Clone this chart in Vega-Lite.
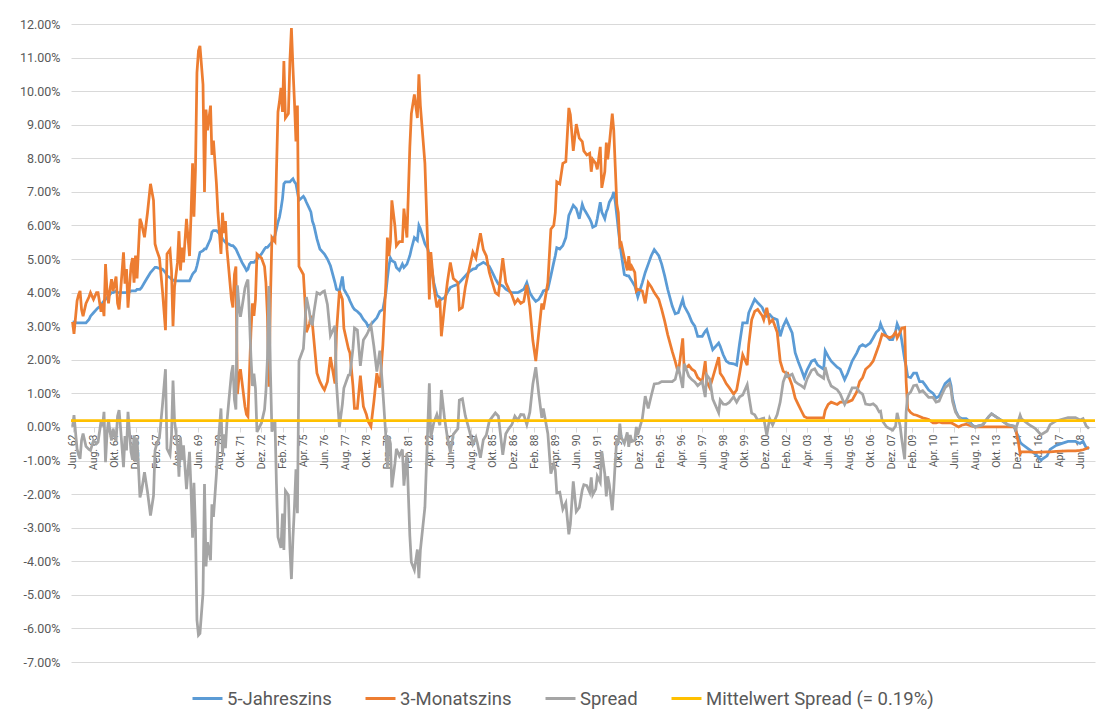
{
"$schema": "https://vega.github.io/schema/vega-lite/v6.json",
"width": 1024, "height": 638,
"autosize": {"type": "none"},
"padding": {"left": 71, "top": 24, "right": 12, "bottom": 56},
"background": "white",
"config": {"view": {"stroke": null}, "font": "Roboto"},
"layer": [
{
"data": {"values": [
{"d":"1962-06","j5":3.13,"m3":3.13,"sp":0.0},
{"d":"1962-07","j5":3.12,"m3":2.77,"sp":0.35},
{"d":"1962-09","j5":3.1,"m3":3.75,"sp":-0.65},
{"d":"1962-10","j5":3.1,"m3":3.93,"sp":-0.83},
{"d":"1962-11","j5":3.1,"m3":4.05,"sp":-0.95},
{"d":"1962-12","j5":3.1,"m3":3.5,"sp":-0.4},
{"d":"1963-01","j5":3.1,"m3":3.3,"sp":-0.2},
{"d":"1963-03","j5":3.1,"m3":3.68,"sp":-0.58},
{"d":"1963-05","j5":3.2,"m3":3.87,"sp":-0.67},
{"d":"1963-06","j5":3.3,"m3":4.0,"sp":-0.7},
{"d":"1963-08","j5":3.4,"m3":3.8,"sp":-0.4},
{"d":"1963-10","j5":3.5,"m3":4.0,"sp":-0.5},
{"d":"1963-11","j5":3.55,"m3":4.0,"sp":-0.45},
{"d":"1964-01","j5":3.6,"m3":3.43,"sp":0.17},
{"d":"1964-02","j5":3.7,"m3":3.68,"sp":0.02},
{"d":"1964-03","j5":3.75,"m3":3.3,"sp":0.45},
{"d":"1964-04","j5":3.8,"m3":4.85,"sp":-1.05},
{"d":"1964-05","j5":3.85,"m3":4.05,"sp":-0.2},
{"d":"1964-06","j5":3.9,"m3":3.68,"sp":0.22},
{"d":"1964-07","j5":3.95,"m3":4.1,"sp":-0.15},
{"d":"1964-08","j5":4.0,"m3":4.4,"sp":-0.4},
{"d":"1964-09","j5":4.0,"m3":4.05,"sp":-0.05},
{"d":"1964-11","j5":4.05,"m3":4.48,"sp":-0.43},
{"d":"1964-12","j5":4.0,"m3":3.68,"sp":0.32},
{"d":"1965-01","j5":4.0,"m3":3.5,"sp":0.5},
{"d":"1965-02","j5":4.0,"m3":4.05,"sp":-0.05},
{"d":"1965-04","j5":4.0,"m3":5.2,"sp":-1.2},
{"d":"1965-05","j5":4.0,"m3":4.27,"sp":-0.27},
{"d":"1965-06","j5":4.0,"m3":4.7,"sp":-0.7},
{"d":"1965-07","j5":4.0,"m3":3.55,"sp":0.45},
{"d":"1965-09","j5":4.05,"m3":4.8,"sp":-0.75},
{"d":"1965-10","j5":4.05,"m3":5.03,"sp":-0.98},
{"d":"1965-11","j5":4.05,"m3":4.3,"sp":-0.25},
{"d":"1965-12","j5":4.05,"m3":5.1,"sp":-1.05},
{"d":"1966-01","j5":4.1,"m3":4.42,"sp":-0.32},
{"d":"1966-03","j5":4.1,"m3":6.2,"sp":-2.1},
{"d":"1966-04","j5":4.15,"m3":6.07,"sp":-1.92},
{"d":"1966-06","j5":4.3,"m3":5.65,"sp":-1.35},
{"d":"1966-08","j5":4.45,"m3":6.38,"sp":-1.93},
{"d":"1966-10","j5":4.6,"m3":7.24,"sp":-2.64},
{"d":"1966-12","j5":4.7,"m3":6.75,"sp":-2.05},
{"d":"1967-01","j5":4.75,"m3":5.45,"sp":-0.7},
{"d":"1967-02","j5":4.75,"m3":5.28,"sp":-0.53},
{"d":"1967-04","j5":4.72,"m3":5.03,"sp":-0.31},
{"d":"1967-06","j5":4.7,"m3":4.05,"sp":0.65},
{"d":"1967-08","j5":4.6,"m3":2.88,"sp":1.72},
{"d":"1967-09","j5":4.5,"m3":5.15,"sp":-0.65},
{"d":"1967-11","j5":4.45,"m3":5.28,"sp":-0.83},
{"d":"1967-12","j5":4.4,"m3":4.66,"sp":-0.26},
{"d":"1968-01","j5":4.38,"m3":3.0,"sp":1.38},
{"d":"1968-02","j5":4.35,"m3":4.17,"sp":0.18},
{"d":"1968-04","j5":4.35,"m3":4.9,"sp":-0.55},
{"d":"1968-05","j5":4.35,"m3":5.83,"sp":-1.48},
{"d":"1968-06","j5":4.35,"m3":4.66,"sp":-0.31},
{"d":"1968-07","j5":4.35,"m3":5.34,"sp":-0.99},
{"d":"1968-08","j5":4.35,"m3":4.9,"sp":-0.55},
{"d":"1968-10","j5":4.35,"m3":6.2,"sp":-1.85},
{"d":"1968-12","j5":4.35,"m3":5.09,"sp":-0.74},
{"d":"1969-01","j5":4.45,"m3":6.32,"sp":-1.87},
{"d":"1969-02","j5":4.55,"m3":7.85,"sp":-3.3},
{"d":"1969-03","j5":4.6,"m3":6.26,"sp":-1.66},
{"d":"1969-04","j5":4.65,"m3":7.67,"sp":-3.02},
{"d":"1969-05","j5":4.8,"m3":10.55,"sp":-5.75},
{"d":"1969-06","j5":5.0,"m3":11.2,"sp":-6.2},
{"d":"1969-07","j5":5.2,"m3":11.35,"sp":-6.15},
{"d":"1969-09","j5":5.25,"m3":10.2,"sp":-4.95},
{"d":"1969-10","j5":5.3,"m3":7.0,"sp":-1.7},
{"d":"1969-11","j5":5.3,"m3":9.45,"sp":-4.15},
{"d":"1969-12","j5":5.4,"m3":8.83,"sp":-3.43},
{"d":"1970-01","j5":5.5,"m3":9.2,"sp":-3.7},
{"d":"1970-02","j5":5.6,"m3":9.57,"sp":-3.97},
{"d":"1970-03","j5":5.8,"m3":8.1,"sp":-2.3},
{"d":"1970-04","j5":5.85,"m3":8.53,"sp":-2.68},
{"d":"1970-06","j5":5.85,"m3":7.24,"sp":-1.39},
{"d":"1970-07","j5":5.8,"m3":6.38,"sp":-0.58},
{"d":"1970-08","j5":5.75,"m3":5.77,"sp":-0.02},
{"d":"1970-09","j5":5.7,"m3":5.15,"sp":0.55},
{"d":"1970-10","j5":5.6,"m3":6.38,"sp":-0.78},
{"d":"1970-11","j5":5.55,"m3":5.77,"sp":-0.22},
{"d":"1970-12","j5":5.5,"m3":6.13,"sp":-0.63},
{"d":"1971-01","j5":5.45,"m3":5.28,"sp":0.17},
{"d":"1971-02","j5":5.45,"m3":4.78,"sp":0.67},
{"d":"1971-04","j5":5.4,"m3":3.8,"sp":1.6},
{"d":"1971-05","j5":5.4,"m3":3.56,"sp":1.84},
{"d":"1971-06","j5":5.35,"m3":4.54,"sp":0.81},
{"d":"1971-07","j5":5.3,"m3":4.78,"sp":0.52},
{"d":"1971-08","j5":5.2,"m3":0.98,"sp":4.22},
{"d":"1971-09","j5":5.1,"m3":1.47,"sp":3.63},
{"d":"1971-10","j5":5.0,"m3":1.72,"sp":3.28},
{"d":"1971-11","j5":4.9,"m3":1.35,"sp":3.55},
{"d":"1972-01","j5":4.75,"m3":0.61,"sp":4.14},
{"d":"1972-02","j5":4.66,"m3":0.37,"sp":4.29},
{"d":"1972-03","j5":4.7,"m3":0.31,"sp":4.39},
{"d":"1972-04","j5":4.85,"m3":1.6,"sp":3.25},
{"d":"1972-05","j5":4.9,"m3":2.82,"sp":2.08},
{"d":"1972-06","j5":4.9,"m3":3.68,"sp":1.22},
{"d":"1972-07","j5":4.9,"m3":3.31,"sp":1.59},
{"d":"1972-08","j5":4.95,"m3":3.8,"sp":1.15},
{"d":"1972-09","j5":5.0,"m3":5.15,"sp":-0.15},
{"d":"1972-12","j5":5.15,"m3":5.03,"sp":0.12},
{"d":"1973-02","j5":5.3,"m3":4.78,"sp":0.52},
{"d":"1973-03","j5":5.35,"m3":4.3,"sp":1.05},
{"d":"1973-04","j5":5.35,"m3":3.31,"sp":2.04},
{"d":"1973-05","j5":5.4,"m3":1.2,"sp":4.2},
{"d":"1973-06","j5":5.45,"m3":3.8,"sp":1.65},
{"d":"1973-07","j5":5.5,"m3":5.64,"sp":-0.14},
{"d":"1973-09","j5":5.7,"m3":5.52,"sp":0.18},
{"d":"1973-10","j5":5.9,"m3":7.6,"sp":-1.7},
{"d":"1973-11","j5":6.1,"m3":9.38,"sp":-3.28},
{"d":"1973-12","j5":6.25,"m3":9.69,"sp":-3.44},
{"d":"1974-01","j5":6.5,"m3":10.1,"sp":-3.6},
{"d":"1974-02","j5":6.8,"m3":9.38,"sp":-2.58},
{"d":"1974-03","j5":7.24,"m3":10.9,"sp":-3.66},
{"d":"1974-04","j5":7.3,"m3":9.2,"sp":-1.9},
{"d":"1974-06","j5":7.3,"m3":9.33,"sp":-2.03},
{"d":"1974-07","j5":7.3,"m3":10.9,"sp":-3.6},
{"d":"1974-08","j5":7.35,"m3":11.88,"sp":-4.53},
{"d":"1974-09","j5":7.39,"m3":10.7,"sp":-3.31},
{"d":"1974-10","j5":7.3,"m3":9.7,"sp":-2.4},
{"d":"1974-11","j5":7.24,"m3":8.5,"sp":-1.26},
{"d":"1974-12","j5":7.0,"m3":9.57,"sp":-2.57},
{"d":"1975-01","j5":6.75,"m3":4.78,"sp":1.97},
{"d":"1975-04","j5":6.87,"m3":4.54,"sp":2.33},
{"d":"1975-05","j5":6.8,"m3":3.8,"sp":3.0},
{"d":"1975-06","j5":6.69,"m3":2.82,"sp":3.87},
{"d":"1975-08","j5":6.5,"m3":3.07,"sp":3.43},
{"d":"1975-09","j5":6.4,"m3":3.31,"sp":3.09},
{"d":"1975-10","j5":6.13,"m3":3.07,"sp":3.06},
{"d":"1975-11","j5":6.0,"m3":2.58,"sp":3.42},
{"d":"1976-01","j5":5.6,"m3":1.6,"sp":4.0},
{"d":"1976-03","j5":5.3,"m3":1.35,"sp":3.95},
{"d":"1976-05","j5":5.2,"m3":1.17,"sp":4.03},
{"d":"1976-06","j5":5.15,"m3":1.1,"sp":4.05},
{"d":"1976-08","j5":5.0,"m3":1.35,"sp":3.65},
{"d":"1976-10","j5":4.8,"m3":2.08,"sp":2.72},
{"d":"1977-01","j5":4.3,"m3":1.29,"sp":3.01},
{"d":"1977-02","j5":4.1,"m3":2.82,"sp":1.28},
{"d":"1977-04","j5":4.05,"m3":4.05,"sp":0.0},
{"d":"1977-06","j5":4.48,"m3":3.8,"sp":0.68},
{"d":"1977-07","j5":4.1,"m3":2.94,"sp":1.16},
{"d":"1977-10","j5":3.87,"m3":2.33,"sp":1.54},
{"d":"1977-11","j5":3.75,"m3":2.2,"sp":1.55},
{"d":"1978-01","j5":3.56,"m3":1.23,"sp":2.33},
{"d":"1978-02","j5":3.5,"m3":0.55,"sp":2.95},
{"d":"1978-04","j5":3.44,"m3":0.55,"sp":2.89},
{"d":"1978-06","j5":3.35,"m3":1.53,"sp":1.82},
{"d":"1978-08","j5":3.2,"m3":0.61,"sp":2.59},
{"d":"1978-10","j5":3.1,"m3":0.37,"sp":2.73},
{"d":"1978-11","j5":3.0,"m3":0.18,"sp":2.82},
{"d":"1979-01","j5":3.05,"m3":0.02,"sp":3.03},
{"d":"1979-03","j5":3.15,"m3":0.74,"sp":2.41},
{"d":"1979-05","j5":3.25,"m3":1.6,"sp":1.65},
{"d":"1979-07","j5":3.44,"m3":1.17,"sp":2.27},
{"d":"1979-09","j5":3.5,"m3":2.45,"sp":1.05},
{"d":"1979-11","j5":4.0,"m3":4.3,"sp":-0.3},
{"d":"1979-12","j5":4.42,"m3":5.64,"sp":-1.22},
{"d":"1980-01","j5":4.8,"m3":5.09,"sp":-0.29},
{"d":"1980-02","j5":5.03,"m3":5.52,"sp":-0.49},
{"d":"1980-03","j5":4.95,"m3":6.75,"sp":-1.8},
{"d":"1980-05","j5":4.9,"m3":6.0,"sp":-1.1},
{"d":"1980-06","j5":4.75,"m3":5.4,"sp":-0.65},
{"d":"1980-08","j5":4.66,"m3":5.52,"sp":-0.86},
{"d":"1980-10","j5":4.85,"m3":5.52,"sp":-0.67},
{"d":"1980-11","j5":4.75,"m3":6.5,"sp":-1.75},
{"d":"1981-01","j5":4.85,"m3":5.64,"sp":-0.79},
{"d":"1981-03","j5":5.1,"m3":8.34,"sp":-3.24},
{"d":"1981-04","j5":5.3,"m3":9.33,"sp":-4.03},
{"d":"1981-06","j5":5.64,"m3":9.9,"sp":-4.26},
{"d":"1981-08","j5":5.55,"m3":9.2,"sp":-3.65},
{"d":"1981-09","j5":6.0,"m3":10.5,"sp":-4.5},
{"d":"1981-10","j5":5.9,"m3":9.57,"sp":-3.67},
{"d":"1982-01","j5":5.46,"m3":7.85,"sp":-2.39},
{"d":"1982-03","j5":5.3,"m3":5.28,"sp":0.02},
{"d":"1982-04","j5":5.1,"m3":3.8,"sp":1.3},
{"d":"1982-05","j5":4.9,"m3":5.21,"sp":-0.31},
{"d":"1982-07","j5":4.3,"m3":4.17,"sp":0.13},
{"d":"1982-09","j5":3.93,"m3":3.56,"sp":0.37},
{"d":"1982-11","j5":3.85,"m3":3.8,"sp":0.05},
{"d":"1982-12","j5":3.8,"m3":2.7,"sp":1.1},
{"d":"1983-02","j5":3.85,"m3":3.56,"sp":0.29},
{"d":"1983-04","j5":4.0,"m3":4.3,"sp":-0.3},
{"d":"1983-06","j5":4.15,"m3":4.9,"sp":-0.75},
{"d":"1983-08","j5":4.2,"m3":4.42,"sp":-0.22},
{"d":"1983-11","j5":4.25,"m3":4.3,"sp":-0.05},
{"d":"1983-12","j5":4.3,"m3":3.5,"sp":0.8},
{"d":"1984-02","j5":4.4,"m3":3.56,"sp":0.84},
{"d":"1984-04","j5":4.5,"m3":4.17,"sp":0.33},
{"d":"1984-06","j5":4.6,"m3":4.6,"sp":0.0},
{"d":"1984-09","j5":4.7,"m3":5.21,"sp":-0.51},
{"d":"1984-11","j5":4.72,"m3":5.03,"sp":-0.31},
{"d":"1984-12","j5":4.8,"m3":5.28,"sp":-0.48},
{"d":"1985-02","j5":4.85,"m3":5.77,"sp":-0.92},
{"d":"1985-04","j5":4.9,"m3":5.28,"sp":-0.38},
{"d":"1985-06","j5":4.85,"m3":5.09,"sp":-0.24},
{"d":"1985-08","j5":4.78,"m3":4.6,"sp":0.18},
{"d":"1985-10","j5":4.6,"m3":4.3,"sp":0.3},
{"d":"1985-12","j5":4.42,"m3":4.0,"sp":0.42},
{"d":"1986-02","j5":4.25,"m3":3.93,"sp":0.32},
{"d":"1986-05","j5":4.2,"m3":5.03,"sp":-0.83},
{"d":"1986-07","j5":4.1,"m3":4.3,"sp":-0.2},
{"d":"1986-09","j5":4.05,"m3":4.1,"sp":-0.05},
{"d":"1986-11","j5":4.0,"m3":3.93,"sp":0.07},
{"d":"1987-01","j5":4.0,"m3":3.68,"sp":0.32},
{"d":"1987-03","j5":4.0,"m3":3.8,"sp":0.2},
{"d":"1987-05","j5":4.05,"m3":3.68,"sp":0.37},
{"d":"1987-07","j5":4.1,"m3":3.74,"sp":0.36},
{"d":"1987-09","j5":4.3,"m3":4.23,"sp":0.07},
{"d":"1987-11","j5":4.0,"m3":3.56,"sp":0.44},
{"d":"1988-01","j5":3.85,"m3":2.58,"sp":1.27},
{"d":"1988-03","j5":3.74,"m3":1.96,"sp":1.78},
{"d":"1988-05","j5":3.8,"m3":2.82,"sp":0.98},
{"d":"1988-07","j5":3.95,"m3":3.68,"sp":0.27},
{"d":"1988-08","j5":4.05,"m3":3.5,"sp":0.55},
{"d":"1988-11","j5":4.1,"m3":4.3,"sp":-0.2},
{"d":"1989-01","j5":4.5,"m3":5.89,"sp":-1.39},
{"d":"1989-03","j5":4.9,"m3":6.0,"sp":-1.1},
{"d":"1989-04","j5":5.1,"m3":6.38,"sp":-1.28},
{"d":"1989-05","j5":5.34,"m3":7.3,"sp":-1.96},
{"d":"1989-07","j5":5.3,"m3":7.24,"sp":-1.94},
{"d":"1989-09","j5":5.4,"m3":7.85,"sp":-2.45},
{"d":"1989-11","j5":5.64,"m3":7.9,"sp":-2.26},
{"d":"1990-01","j5":6.3,"m3":9.5,"sp":-3.2},
{"d":"1990-02","j5":6.4,"m3":9.3,"sp":-2.9},
{"d":"1990-04","j5":6.6,"m3":8.22,"sp":-1.62},
{"d":"1990-06","j5":6.5,"m3":9.02,"sp":-2.52},
{"d":"1990-08","j5":6.2,"m3":8.6,"sp":-2.4},
{"d":"1990-10","j5":6.63,"m3":8.5,"sp":-1.87},
{"d":"1990-11","j5":6.5,"m3":8.22,"sp":-1.72},
{"d":"1991-01","j5":6.35,"m3":8.1,"sp":-1.75},
{"d":"1991-03","j5":6.2,"m3":8.15,"sp":-1.95},
{"d":"1991-04","j5":6.1,"m3":7.6,"sp":-1.5},
{"d":"1991-05","j5":5.95,"m3":7.97,"sp":-2.02},
{"d":"1991-07","j5":6.0,"m3":7.85,"sp":-1.85},
{"d":"1991-08","j5":6.2,"m3":7.67,"sp":-1.47},
{"d":"1991-10","j5":6.69,"m3":8.34,"sp":-1.65},
{"d":"1991-11","j5":6.4,"m3":7.12,"sp":-0.72},
{"d":"1992-01","j5":6.2,"m3":7.6,"sp":-1.4},
{"d":"1992-02","j5":6.4,"m3":8.47,"sp":-2.07},
{"d":"1992-03","j5":6.5,"m3":7.97,"sp":-1.47},
{"d":"1992-04","j5":6.69,"m3":8.4,"sp":-1.71},
{"d":"1992-06","j5":6.85,"m3":9.33,"sp":-2.48},
{"d":"1992-07","j5":7.0,"m3":8.83,"sp":-1.83},
{"d":"1992-08","j5":6.7,"m3":7.73,"sp":-1.03},
{"d":"1992-09","j5":6.3,"m3":6.63,"sp":-0.33},
{"d":"1992-10","j5":5.89,"m3":6.38,"sp":-0.49},
{"d":"1992-11","j5":5.5,"m3":5.4,"sp":0.1},
{"d":"1992-12","j5":5.15,"m3":5.46,"sp":-0.31},
{"d":"1993-02","j5":4.54,"m3":5.03,"sp":-0.49},
{"d":"1993-04","j5":4.5,"m3":4.66,"sp":-0.16},
{"d":"1993-05","j5":4.5,"m3":5.09,"sp":-0.59},
{"d":"1993-06","j5":4.42,"m3":4.66,"sp":-0.24},
{"d":"1993-07","j5":4.35,"m3":4.78,"sp":-0.43},
{"d":"1993-09","j5":4.2,"m3":4.6,"sp":-0.4},
{"d":"1993-10","j5":4.05,"m3":4.05,"sp":0.0},
{"d":"1993-11","j5":3.87,"m3":4.1,"sp":-0.23},
{"d":"1994-02","j5":4.3,"m3":4.05,"sp":0.25},
{"d":"1994-04","j5":4.6,"m3":3.68,"sp":0.92},
{"d":"1994-06","j5":4.85,"m3":4.3,"sp":0.55},
{"d":"1994-08","j5":5.1,"m3":4.17,"sp":0.93},
{"d":"1994-10","j5":5.28,"m3":4.0,"sp":1.28},
{"d":"1995-01","j5":5.1,"m3":3.8,"sp":1.3},
{"d":"1995-03","j5":4.85,"m3":3.5,"sp":1.35},
{"d":"1995-05","j5":4.5,"m3":3.15,"sp":1.35},
{"d":"1995-07","j5":4.1,"m3":2.75,"sp":1.35},
{"d":"1995-10","j5":3.6,"m3":2.25,"sp":1.35},
{"d":"1995-12","j5":3.37,"m3":1.95,"sp":1.42},
{"d":"1996-02","j5":3.4,"m3":1.6,"sp":1.8},
{"d":"1996-05","j5":3.8,"m3":2.64,"sp":1.16},
{"d":"1996-06","j5":3.6,"m3":1.72,"sp":1.88},
{"d":"1996-09","j5":3.35,"m3":1.84,"sp":1.51},
{"d":"1996-11","j5":3.13,"m3":1.72,"sp":1.41},
{"d":"1997-01","j5":3.0,"m3":1.66,"sp":1.34},
{"d":"1997-03","j5":2.7,"m3":1.47,"sp":1.23},
{"d":"1997-06","j5":2.7,"m3":1.35,"sp":1.35},
{"d":"1997-08","j5":2.85,"m3":1.96,"sp":0.89},
{"d":"1997-09","j5":2.9,"m3":1.35,"sp":1.55},
{"d":"1997-11","j5":2.6,"m3":1.17,"sp":1.43},
{"d":"1998-01","j5":2.3,"m3":1.47,"sp":0.83},
{"d":"1998-05","j5":2.5,"m3":2.08,"sp":0.42},
{"d":"1998-06","j5":2.4,"m3":1.6,"sp":0.8},
{"d":"1998-08","j5":2.15,"m3":1.47,"sp":0.68},
{"d":"1998-10","j5":1.96,"m3":1.29,"sp":0.67},
{"d":"1998-12","j5":1.9,"m3":1.17,"sp":0.73},
{"d":"1999-03","j5":1.88,"m3":0.98,"sp":0.9},
{"d":"1999-05","j5":1.84,"m3":1.1,"sp":0.74},
{"d":"1999-07","j5":2.5,"m3":1.6,"sp":0.9},
{"d":"1999-09","j5":3.1,"m3":2.15,"sp":0.95},
{"d":"1999-12","j5":3.1,"m3":1.84,"sp":1.26},
{"d":"2000-01","j5":3.4,"m3":2.45,"sp":0.95},
{"d":"2000-03","j5":3.6,"m3":3.19,"sp":0.41},
{"d":"2000-05","j5":3.8,"m3":3.44,"sp":0.36},
{"d":"2000-07","j5":3.7,"m3":3.5,"sp":0.2},
{"d":"2000-10","j5":3.56,"m3":3.31,"sp":0.25},
{"d":"2000-11","j5":3.45,"m3":3.19,"sp":0.26},
{"d":"2001-01","j5":3.3,"m3":3.55,"sp":-0.25},
{"d":"2001-03","j5":3.35,"m3":3.1,"sp":0.25},
{"d":"2001-05","j5":3.25,"m3":3.19,"sp":0.06},
{"d":"2001-08","j5":3.19,"m3":2.82,"sp":0.37},
{"d":"2001-10","j5":2.7,"m3":1.96,"sp":0.74},
{"d":"2001-12","j5":3.0,"m3":1.66,"sp":1.34},
{"d":"2002-02","j5":3.19,"m3":1.6,"sp":1.59},
{"d":"2002-03","j5":3.1,"m3":1.6,"sp":1.5},
{"d":"2002-06","j5":2.8,"m3":1.23,"sp":1.57},
{"d":"2002-08","j5":2.21,"m3":0.86,"sp":1.35},
{"d":"2002-10","j5":1.95,"m3":0.67,"sp":1.28},
{"d":"2002-12","j5":1.72,"m3":0.49,"sp":1.23},
{"d":"2003-02","j5":1.47,"m3":0.31,"sp":1.16},
{"d":"2003-04","j5":1.7,"m3":0.27,"sp":1.43},
{"d":"2003-07","j5":1.96,"m3":0.27,"sp":1.69},
{"d":"2003-09","j5":2.0,"m3":0.27,"sp":1.73},
{"d":"2003-11","j5":1.84,"m3":0.27,"sp":1.57},
{"d":"2004-03","j5":1.72,"m3":0.27,"sp":1.45},
{"d":"2004-04","j5":2.27,"m3":0.49,"sp":1.78},
{"d":"2004-06","j5":2.1,"m3":0.67,"sp":1.43},
{"d":"2004-08","j5":1.96,"m3":0.74,"sp":1.22},
{"d":"2004-12","j5":1.78,"m3":0.67,"sp":1.11},
{"d":"2005-02","j5":1.72,"m3":0.74,"sp":0.98},
{"d":"2005-05","j5":1.41,"m3":0.74,"sp":0.67},
{"d":"2005-07","j5":1.6,"m3":0.74,"sp":0.86},
{"d":"2005-10","j5":1.96,"m3":0.8,"sp":1.16},
{"d":"2006-01","j5":2.2,"m3":1.04,"sp":1.16},
{"d":"2006-03","j5":2.39,"m3":1.35,"sp":1.04},
{"d":"2006-05","j5":2.45,"m3":1.47,"sp":0.98},
{"d":"2006-07","j5":2.4,"m3":1.72,"sp":0.68},
{"d":"2006-10","j5":2.5,"m3":1.84,"sp":0.66},
{"d":"2006-12","j5":2.65,"m3":1.96,"sp":0.69},
{"d":"2007-02","j5":2.82,"m3":2.21,"sp":0.61},
{"d":"2007-04","j5":2.9,"m3":2.45,"sp":0.45},
{"d":"2007-05","j5":3.07,"m3":2.6,"sp":0.47},
{"d":"2007-06","j5":2.95,"m3":2.76,"sp":0.19},
{"d":"2007-09","j5":2.7,"m3":2.7,"sp":0.0},
{"d":"2007-11","j5":2.6,"m3":2.65,"sp":-0.05},
{"d":"2008-01","j5":2.6,"m3":2.7,"sp":-0.1},
{"d":"2008-03","j5":2.85,"m3":2.82,"sp":0.03},
{"d":"2008-04","j5":3.07,"m3":2.65,"sp":0.42},
{"d":"2008-06","j5":2.85,"m3":2.82,"sp":0.03},
{"d":"2008-07","j5":2.6,"m3":2.94,"sp":-0.34},
{"d":"2008-09","j5":2.0,"m3":2.96,"sp":-0.96},
{"d":"2008-10","j5":1.8,"m3":1.35,"sp":0.45},
{"d":"2008-11","j5":1.5,"m3":0.55,"sp":0.95},
{"d":"2009-01","j5":1.47,"m3":0.43,"sp":1.04},
{"d":"2009-03","j5":1.6,"m3":0.37,"sp":1.23},
{"d":"2009-05","j5":1.6,"m3":0.35,"sp":1.25},
{"d":"2009-07","j5":1.35,"m3":0.31,"sp":1.04},
{"d":"2009-09","j5":1.35,"m3":0.27,"sp":1.08},
{"d":"2009-11","j5":1.23,"m3":0.25,"sp":0.98},
{"d":"2010-01","j5":1.1,"m3":0.22,"sp":0.88},
{"d":"2010-04","j5":1.0,"m3":0.12,"sp":0.88},
{"d":"2010-06","j5":0.86,"m3":0.12,"sp":0.74},
{"d":"2010-08","j5":0.92,"m3":0.15,"sp":0.77},
{"d":"2010-10","j5":1.1,"m3":0.12,"sp":0.98},
{"d":"2010-12","j5":1.29,"m3":0.12,"sp":1.17},
{"d":"2011-03","j5":1.41,"m3":0.12,"sp":1.29},
{"d":"2011-04","j5":1.23,"m3":0.12,"sp":1.11},
{"d":"2011-05","j5":0.86,"m3":0.1,"sp":0.76},
{"d":"2011-07","j5":0.49,"m3":0.05,"sp":0.44},
{"d":"2011-09","j5":0.3,"m3":0.0,"sp":0.3},
{"d":"2011-11","j5":0.25,"m3":0.05,"sp":0.2},
{"d":"2012-02","j5":0.25,"m3":0.08,"sp":0.17},
{"d":"2012-04","j5":0.18,"m3":0.05,"sp":0.13},
{"d":"2012-06","j5":0.06,"m3":0.02,"sp":0.04},
{"d":"2012-08","j5":0.0,"m3":0.0,"sp":0.0},
{"d":"2013-01","j5":0.06,"m3":0.0,"sp":0.06},
{"d":"2013-05","j5":0.3,"m3":0.0,"sp":0.3},
{"d":"2013-07","j5":0.39,"m3":0.0,"sp":0.39},
{"d":"2013-10","j5":0.3,"m3":0.0,"sp":0.3},
{"d":"2014-02","j5":0.18,"m3":0.0,"sp":0.18},
{"d":"2014-06","j5":0.06,"m3":0.0,"sp":0.06},
{"d":"2014-10","j5":0.02,"m3":0.0,"sp":0.02},
{"d":"2014-11","j5":-0.12,"m3":-0.05,"sp":-0.07},
{"d":"2015-01","j5":-0.3,"m3":-0.5,"sp":0.2},
{"d":"2015-02","j5":-0.45,"m3":-0.8,"sp":0.35},
{"d":"2015-03","j5":-0.5,"m3":-0.74,"sp":0.24},
{"d":"2015-08","j5":-0.67,"m3":-0.74,"sp":0.07},
{"d":"2015-12","j5":-0.8,"m3":-0.76,"sp":-0.04},
{"d":"2016-04","j5":-0.98,"m3":-0.75,"sp":-0.23},
{"d":"2016-08","j5":-0.86,"m3":-0.74,"sp":-0.12},
{"d":"2016-10","j5":-0.67,"m3":-0.74,"sp":0.07},
{"d":"2017-02","j5":-0.55,"m3":-0.73,"sp":0.18},
{"d":"2017-06","j5":-0.49,"m3":-0.72,"sp":0.23},
{"d":"2017-10","j5":-0.43,"m3":-0.71,"sp":0.28},
{"d":"2018-03","j5":-0.43,"m3":-0.71,"sp":0.28},
{"d":"2018-06","j5":-0.49,"m3":-0.7,"sp":0.21},
{"d":"2018-08","j5":-0.43,"m3":-0.68,"sp":0.25},
{"d":"2018-10","j5":-0.61,"m3":-0.65,"sp":0.04},
{"d":"2018-12","j5":-0.65,"m3":-0.6,"sp":-0.05}
]},
"transform": [{"fold": ["j5", "m3", "sp"], "as": ["key", "v"]}],
"mark": {"type": "line", "strokeWidth": 2.75},
"encoding": {
 "x": {"field": "d", "type": "temporal",
  "scale": {"type": "utc", "domain": [{"year":1962,"month":5,"date":1,"utc":true},{"year":2019,"month":4,"date":1,"utc":true}]},
  "axis": {"title": null, "grid": false, "offset": -235, "labelAngle": -90, "labelAlign": "right", "labelBaseline": "middle",
   "labelOverlap": false, "labelFlush": false, "labelPadding": 2, "tickSize": 5, "tickColor": "#D9D9D9", "domainColor": "#D9D9D9",
   "labelColor": "#595959", "labelFont": "Roboto", "labelFontSize": 10.5, "tickCount": 60,
   "labelExpr": "['Jan.','Feb.','Mär.','Apr.','Mai','Jun.','Jul.','Aug.','Sep.','Okt.','Nov.','Dez.'][utcmonth(datum.value)] + ' ' + utcFormat(datum.value, '%y')",
   "values": [
    {"year":1962,"month":6,"date":1,"utc":true},{"year":1963,"month":8,"date":1,"utc":true},{"year":1964,"month":10,"date":1,"utc":true},{"year":1965,"month":12,"date":1,"utc":true},
    {"year":1967,"month":2,"date":1,"utc":true},{"year":1968,"month":4,"date":1,"utc":true},{"year":1969,"month":6,"date":1,"utc":true},{"year":1970,"month":8,"date":1,"utc":true},
    {"year":1971,"month":10,"date":1,"utc":true},{"year":1972,"month":12,"date":1,"utc":true},{"year":1974,"month":2,"date":1,"utc":true},{"year":1975,"month":4,"date":1,"utc":true},
    {"year":1976,"month":6,"date":1,"utc":true},{"year":1977,"month":8,"date":1,"utc":true},{"year":1978,"month":10,"date":1,"utc":true},{"year":1979,"month":12,"date":1,"utc":true},
    {"year":1981,"month":2,"date":1,"utc":true},{"year":1982,"month":4,"date":1,"utc":true},{"year":1983,"month":6,"date":1,"utc":true},{"year":1984,"month":8,"date":1,"utc":true},
    {"year":1985,"month":10,"date":1,"utc":true},{"year":1986,"month":12,"date":1,"utc":true},{"year":1988,"month":2,"date":1,"utc":true},{"year":1989,"month":4,"date":1,"utc":true},
    {"year":1990,"month":6,"date":1,"utc":true},{"year":1991,"month":8,"date":1,"utc":true},{"year":1992,"month":10,"date":1,"utc":true},{"year":1993,"month":12,"date":1,"utc":true},
    {"year":1995,"month":2,"date":1,"utc":true},{"year":1996,"month":4,"date":1,"utc":true},{"year":1997,"month":6,"date":1,"utc":true},{"year":1998,"month":8,"date":1,"utc":true},
    {"year":1999,"month":10,"date":1,"utc":true},{"year":2000,"month":12,"date":1,"utc":true},{"year":2002,"month":2,"date":1,"utc":true},{"year":2003,"month":4,"date":1,"utc":true},
    {"year":2004,"month":6,"date":1,"utc":true},{"year":2005,"month":8,"date":1,"utc":true},{"year":2006,"month":10,"date":1,"utc":true},{"year":2007,"month":12,"date":1,"utc":true},
    {"year":2009,"month":2,"date":1,"utc":true},{"year":2010,"month":4,"date":1,"utc":true},{"year":2011,"month":6,"date":1,"utc":true},{"year":2012,"month":8,"date":1,"utc":true},
    {"year":2013,"month":10,"date":1,"utc":true},{"year":2014,"month":12,"date":1,"utc":true},{"year":2016,"month":2,"date":1,"utc":true},{"year":2017,"month":4,"date":1,"utc":true},
    {"year":2018,"month":6,"date":1,"utc":true}
   ]}},
 "y": {"field": "v", "type": "quantitative",
  "scale": {"domain": [-7, 12], "nice": false, "zero": false},
  "axis": {"title": null, "values": [-7,-6,-5,-4,-3,-2,-1,0,1,2,3,4,5,6,7,8,9,10,11,12], "tickCount": 25,
   "labelOverlap": false, "labelFlush": false,
   "domain": false, "ticks": false, "gridColor": "#D9D9D9", "gridWidth": 1, "labelPadding": 11,
   "labelColor": "#595959", "labelFont": "Roboto", "labelFontSize": 12.5,
   "labelExpr": "(datum.value < 0 ? '-' : '') + format(abs(datum.value), '.2f') + '%'"}},
 "color": {"field": "key", "type": "nominal",
  "scale": {"domain": ["j5", "m3", "sp", "avg"], "range": ["#5B9BD5", "#ED7D31", "#A5A5A5", "#FFC000"]},
  "legend": {"title": null, "orient": "none", "legendX": 120, "legendY": 658, "direction": "horizontal",
   "symbolType": "stroke", "symbolSize": 900, "symbolStrokeWidth": 3, "labelOffset": 3, "columnPadding": 27, "padding": 0,
   "labelFont": "Roboto", "labelFontSize": 18.5, "labelColor": "#595959", "labelLimit": 500,
   "labelExpr": "datum.label == 'j5' ? '5-Jahreszins' : datum.label == 'm3' ? '3-Monatszins' : datum.label == 'sp' ? 'Spread' : 'Mittelwert Spread (= 0.19%)'"}}
}
},
{
"data": {"values": [{"key": "avg", "v": 0.19}]},
"mark": {"type": "rule", "strokeWidth": 2.75},
"encoding": {
 "y": {"field": "v", "type": "quantitative"},
 "color": {"field": "key", "type": "nominal"}
}
}
]
}
